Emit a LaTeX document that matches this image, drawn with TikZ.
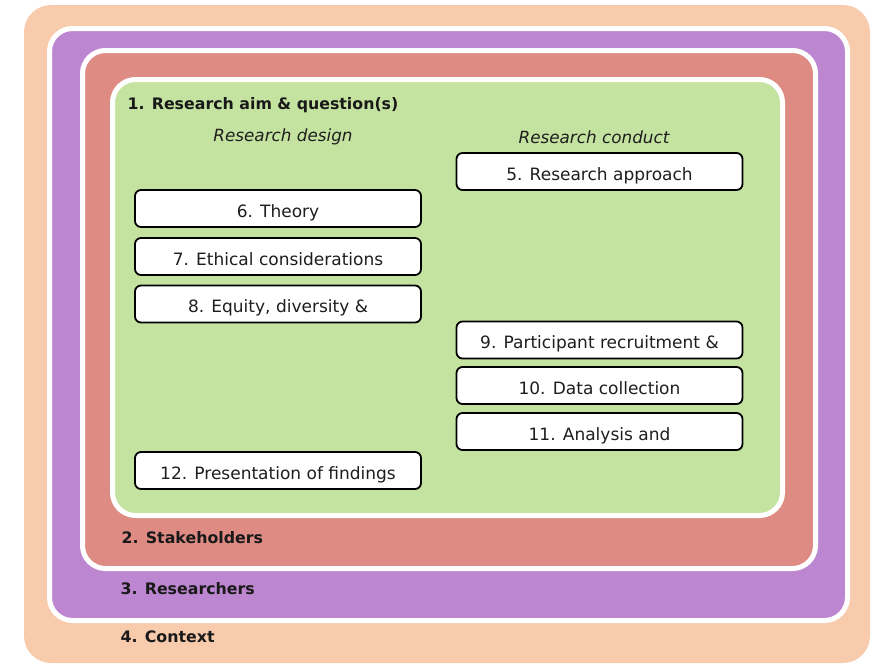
\documentclass[tikz,border=0pt]{standalone}
\usepackage{fontspec}
\setmainfont{DejaVu Sans}
\usepackage{tikz}
\usetikzlibrary{positioning}
\usepackage{xcolor}
\definecolor{ctxpeach}{RGB}{248, 203, 173}
\definecolor{respurple}{RGB}{188, 135, 208}
\definecolor{stkred}{RGB}{221, 139, 131}
\definecolor{aimgreen}{RGB}{197, 227, 160}
\definecolor{txtgrey}{RGB}{30, 30, 30}
\tikzset{
  layer/.style={white, line width=5pt, rounded corners=23pt},
  itembox/.style={draw=black, line width=1.8pt, fill=white, rounded corners=6pt,
    minimum width=286pt, minimum height=37pt, inner sep=0pt,
    text height=20pt, text depth=3pt,
    text=txtgrey, font=\fontsize{17}{19}\selectfont},
  layerlabel/.style={anchor=west, text=black!90, font=\fontsize{15.8}{18}\selectfont\bfseries},
  colhead/.style={text=txtgrey, font=\fontsize{16.8}{19}\selectfont\itshape}
}

\begin{document}
\begin{tikzpicture}[x=1pt, y=-1pt]
  \useasboundingbox (0,0) rectangle (872,665);

  % 4. Context
  \fill[ctxpeach, rounded corners=27pt] (24,5) rectangle (870,663);
  % 3. Researchers
  \draw[layer, fill=respurple] (49.5,28.5) rectangle (847.5,620.5);
  % 2. Stakeholders
  \draw[layer, fill=stkred] (82.5,50.5) rectangle (815.5,568.5);
  % 1. Research aim
  \draw[layer, fill=aimgreen] (112.5,79.5) rectangle (782.5,515.5);

  % layer titles
  \node[layerlabel] (aim) at (124,105) {1. Research aim \& question(s)};
  \node[layerlabel] (stake) at (118,538) {2. Stakeholders};
  \node[layerlabel] (resr) at (117,589) {3. Researchers};
  \node[layerlabel] (ctx) at (117,637) {4. Context};

  % column headings
  \node[colhead] (design) at (283,137) {Research design};
  \node[colhead] (conduct) at (594,137) {Research conduct};

  % design column
  \node[itembox] (theory) at (278,208.5) {6. Theory};
  \node[itembox] (ethics) at (278,256.5) {7. Ethical considerations};
  \node[itembox] (equity) at (278,304) {8. Equity, diversity \&};
  \node[itembox] (present) at (278,470.5) {12. Presentation of findings};

  % conduct column
  \node[itembox] (approach) at (599.5,171.5) {5. Research approach};
  \node[itembox] (recruit) at (599.5,340) {9. Participant recruitment \&};
  \node[itembox] (collect) at (599.5,385.5) {10. Data collection};
  \node[itembox] (analysis) at (599.5,431.5) {11. Analysis and};
\end{tikzpicture}
\end{document}
